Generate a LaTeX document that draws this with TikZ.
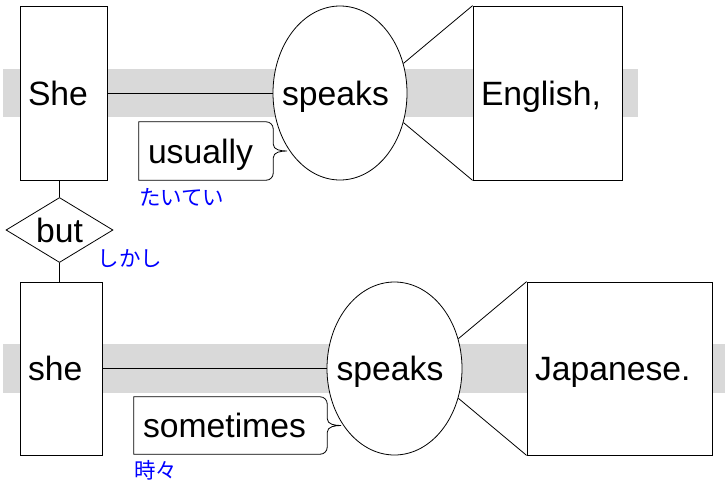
\documentclass[tikz,border=0pt]{standalone}
\usepackage{fontspec}
\setmainfont{Liberation Sans}
\newfontfamily\jpfont{Noto Sans CJK JP}
\usetikzlibrary{shapes.geometric}
\definecolor{bandgray}{RGB}{217,217,217}
\newcommand{\adverbframe}[1]{%
  \draw[line width=0.8pt, rounded corners=0pt] (#1.south west) -- (#1.north west)
    -- ([xshift=-7pt]#1.north east) to[out=0,in=90] ([yshift=-7pt]#1.north east)
    -- ([yshift=7pt]#1.east) to[out=-90,in=180] ([xshift=14pt]#1.east)
    to[out=180,in=90] ([yshift=-7pt]#1.east)
    -- ([yshift=7pt]#1.south east) to[out=-90,in=0] ([xshift=-7pt]#1.south east)
    -- cycle;}
\newcommand{\verbtext}[1]{\makebox[0pt]{\hspace*{-9pt}#1}}

\begin{document}
\begin{tikzpicture}[x=1pt, y=-1pt,
    every node/.style={font=\fontsize{33.7pt}{40pt}\selectfont},
    wordbox/.style={draw, line width=0.8pt, fill=white, rectangle, inner xsep=8pt,
      inner ysep=0pt, text height=24.1pt, text depth=0pt, align=left},
    verb/.style={draw, line width=0.8pt, fill=white, ellipse, inner sep=0pt,
      text height=24.1pt, text depth=0pt},
    adverb/.style={rectangle, inner xsep=9pt, inner ysep=0pt,
      text height=24.1pt, text depth=0pt, align=left},
    conj/.style={draw, line width=0.8pt, fill=white, diamond, aspect=1.65, inner sep=0pt,
      minimum width=107pt, minimum height=65pt, text height=24.1pt, text depth=0pt},
    gloss/.style={text=blue, inner sep=0pt, font=\jpfont\fontsize{21.5pt}{24pt}\selectfont},
    link/.style={line width=0.8pt}]
  \useasboundingbox (0,0) rectangle (725,485);
  % baselines
  \fill[bandgray] (3,69) rectangle (638,117);
  \fill[bandgray] (3,344) rectangle (725,393);

  % first clause
  \node[wordbox, text width=71pt, minimum height=174pt] (She) at (63.5,93) {She};
  \node[verb, minimum width=134pt, minimum height=174pt] (speaksA) at (340,93) {\verbtext{speaks}};
  \node[wordbox, text width=133pt, minimum height=174pt] (English) at (547.5,93) {English,};
  \node[adverb, text width=116pt, minimum height=58pt] (usually) at (206,151) {usually};
  \adverbframe{usually}
  \node[gloss, anchor=west] (usuallyJ) at ([yshift=-17pt]usually.south west) {たいてい};

  \draw[link] (She.east) -- (speaksA.west);
  \draw[link] (speaksA.25) -- (English.north west);
  \draw[link] (speaksA.-25) -- (English.south west);

  % conjunction
  \node[conj] (but) at (59.5,230) {but};
  \node[gloss, anchor=west] (butJ) at ([xshift=38pt,yshift=-29pt]but.center) {しかし};

  % second clause
  \node[wordbox, text width=66pt, minimum height=173pt] (she) at (61,368.5) {she};
  \node[verb, minimum width=135pt, minimum height=173pt] (speaksB) at (394.5,368.5) {\verbtext{speaks}};
  \node[wordbox, text width=169pt, minimum height=173pt] (Japanese) at (619.5,368.5) {Japanese.};
  \node[adverb, text width=175pt, minimum height=57pt] (sometimes) at (230.5,425.5) {sometimes};
  \adverbframe{sometimes}
  \node[gloss, anchor=west] (sometimesJ) at ([yshift=-16pt]sometimes.south west) {時々};

  \draw[link] (she.east) -- (speaksB.west);
  \draw[link] (speaksB.25) -- (Japanese.north west);
  \draw[link] (speaksB.-25) -- (Japanese.south west);

  \draw[link] (but.north) -- (but.north |- She.south);
  \draw[link] (but.south) -- (but.south |- she.north);
\end{tikzpicture}
\end{document}
